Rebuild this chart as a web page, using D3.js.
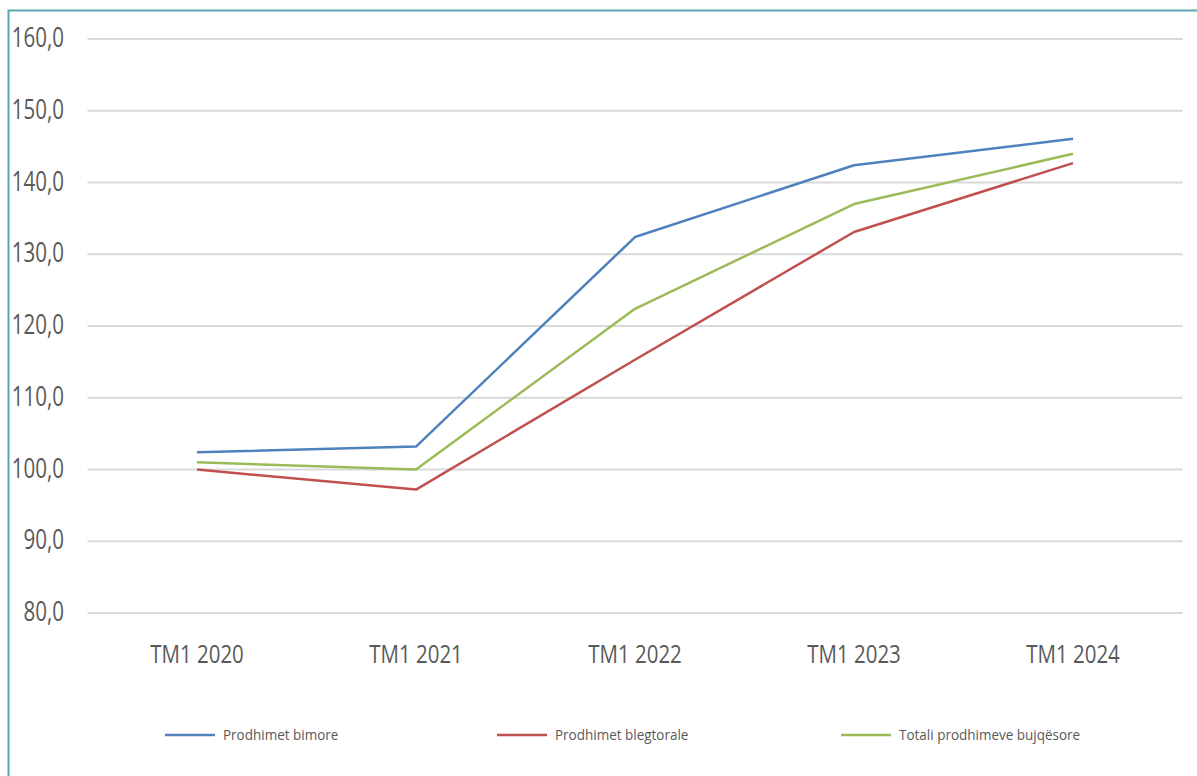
<!DOCTYPE html>
<html>
<head>
<meta charset="utf-8">
<script src="https://cdn.jsdelivr.net/npm/d3@7"></script>
<style>
  html, body { margin: 0; padding: 0; background: #fff; }
  svg { display: block; }
  text { font-family: "Open Sans", "Noto Sans", sans-serif; fill: #595959; }
</style>
</head>
<body>
<svg id="chart"></svg>
<script>
const width = 1197
const height = 776

// data
const categories = ['TM1 2020', 'TM1 2021', 'TM1 2022', 'TM1 2023', 'TM1 2024']
const bimore = [102.4, 103.2, 132.4, 142.4, 146.1]
const blegtorale = [100.0, 97.2, 115.3, 133.1, 142.7]
const totali = [101.0, 100.0, 122.4, 137.0, 144.0]
const seriesNames = ['Prodhimet bimore', 'Prodhimet blegtorale', 'Totali prodhimeve bujqësore']
const yTicks = [80, 90, 100, 110, 120, 130, 140, 150, 160]

const colors = ['#4f81bd', '#c0504d', '#9bbb59']
const series = [bimore, blegtorale, totali]

const plot = { left: 87.5, right: 1182.5, top: 39, bottom: 613 }

const fmt = d3.formatLocale({ decimal: ',', thousands: '.', grouping: [3], currency: ['', ''] }).format('.1f')

const svg = d3.select('#chart').attr('width', width).attr('height', height)

// teal frame, runs off the right and bottom edges
svg.append('rect')
  .attr('x', 8.5).attr('y', 10.5)
  .attr('width', 1250).attr('height', 850)
  .attr('fill', 'none')
  .attr('stroke', '#5aa5b2')
  .attr('stroke-width', 2)

const x = d3.scaleBand().domain(categories).range([plot.left, plot.right])
const y = d3.scaleLinear().domain([80, 160]).range([plot.bottom, plot.top])

// horizontal grid
svg.append('g')
  .selectAll('line')
  .data(yTicks)
  .join('line')
  .attr('x1', plot.left).attr('x2', plot.right)
  .attr('y1', d => y(d)).attr('y2', d => y(d))
  .attr('stroke', '#d9d9d9')
  .attr('stroke-width', 2)

// y labels (stretched tall and narrow like the source)
svg.append('g')
  .selectAll('text')
  .data(yTicks)
  .join('text')
  .attr('transform', d => `translate(64, ${y(d) + 8}) scale(0.76, 1)`)
  .attr('text-anchor', 'end')
  .style('font-size', '27px')
  .text(d => fmt(d))

// x labels
svg.append('g')
  .selectAll('text')
  .data(categories)
  .join('text')
  .attr('transform', d => `translate(${x(d) + x.bandwidth() / 2}, 663) scale(0.82, 1)`)
  .attr('text-anchor', 'middle')
  .style('font-size', '25px')
  .text(d => d)

const line = d3.line()
  .x((d, i) => x(categories[i]) + x.bandwidth() / 2)
  .y(d => y(d))

svg.append('g')
  .selectAll('path')
  .data(series)
  .join('path')
  .attr('d', d => line(d))
  .attr('fill', 'none')
  .attr('stroke', (d, i) => colors[i])
  .attr('stroke-width', 2.5)
  .attr('stroke-linejoin', 'round')

// legend
const legendX = [165, 497, 841]
const legend = svg.append('g')
  .selectAll('g')
  .data(seriesNames)
  .join('g')
  .attr('transform', (d, i) => `translate(${legendX[i]}, 735)`)

legend.append('line')
  .attr('x1', 0).attr('x2', 50)
  .attr('stroke', (d, i) => colors[i])
  .attr('stroke-width', 2.5)

legend.append('text')
  .attr('transform', 'translate(58, 5) scale(0.9, 1)')
  .style('font-size', '15px')
  .text(d => d)
</script>
</body>
</html>
